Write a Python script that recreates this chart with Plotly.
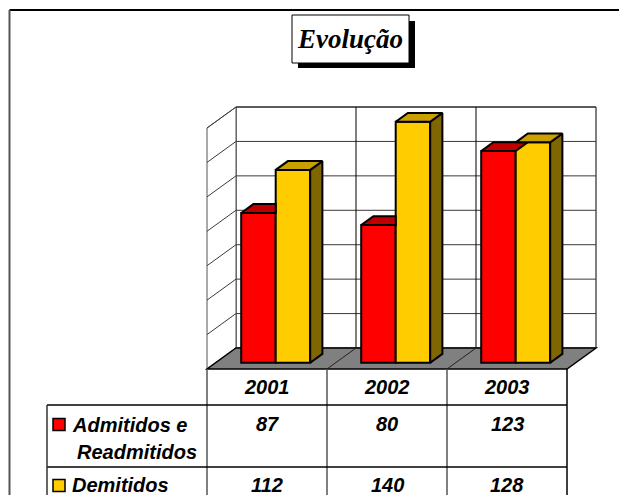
import plotly.graph_objects as go

# ---------------- data ----------------
categories = ["2001", "2002", "2003"]
admitidos = [87, 80, 123]
demitidos = [112, 140, 128]
series_names = ["Admitidos e<br>Readmitidos", "Demitidos"]
title_text = "Evolução"
y_max = 140
y_step = 20

# ---------------- styles / geometry ----------------
W, H = 627, 495
OFF = 8.0                             # page body margin where the figure is placed
X0_PX, CAT_PX = 267.0, 120.0          # page pixel of category 0 (front floor plane), px per category
Y0_PX, VAL_PX = 369.0, 241.0 / 140.0  # page pixel of value 0 (front floor plane), px per value unit
DEPTH_X = 29.0 / CAT_PX               # full depth offset in x data units
DEPTH_Y = 21.0 / VAL_PX               # full depth offset in y data units
BAR_F0, BAR_F1 = 0.30, 0.72           # bar depth span (fraction of full depth)
BAR_W = 34.5 / CAT_PX

RED, RED_TOP = "#FF0000", "#C00000"
YEL, YEL_TOP, YEL_SIDE = "#FFCC00", "#C9A000", "#806600"
FLOOR = "#808080"
FONT = "Liberation Sans"

def px(x):
    return (x - OFF) / W

def py(y):
    return 1 - (y - OFF) / H

ticks = list(range(0, y_max + 1, y_step))
n = len(categories)
xl, xr = -0.5, n - 0.5
DX, DY = DEPTH_X, DEPTH_Y

fig = go.Figure()

# ---------------- walls & floor (shapes below traces) ----------------
shapes = []
line_k = dict(color="black", width=1)
grid_k = dict(color="#3a3a3a", width=1)
# back wall
shapes.append(dict(type="rect", xref="x", yref="y", layer="below",
                   x0=xl + DX, x1=xr + DX, y0=DY, y1=y_max + DY,
                   fillcolor="white", line=line_k))
# left wall
shapes.append(dict(type="path", xref="x", yref="y", layer="below",
                   path=f"M{xl},{0} L{xl},{y_max} L{xl+DX},{y_max+DY} L{xl+DX},{DY} Z",
                   fillcolor="white", line=dict(color="#555555", width=1)))
for t in ticks[1:]:
    shapes.append(dict(type="line", xref="x", yref="y", layer="below",
                       x0=xl + DX, x1=xr + DX, y0=t + DY, y1=t + DY, line=grid_k))
    shapes.append(dict(type="line", xref="x", yref="y", layer="below",
                       x0=xl, x1=xl + DX, y0=t, y1=t + DY, line=grid_k))
for b in range(1, n):
    xb = xl + b
    shapes.append(dict(type="line", xref="x", yref="y", layer="below",
                       x0=xb + DX, x1=xb + DX, y0=DY, y1=y_max + DY, line=line_k))
# floor
shapes.append(dict(type="path", xref="x", yref="y", layer="below",
                   path=f"M{xl},0 L{xr},0 L{xr+DX},{DY} L{xl+DX},{DY} Z",
                   fillcolor=FLOOR, line=dict(color="black", width=1.5)))
for b in range(1, n):
    xb = xl + b
    shapes.append(dict(type="line", xref="x", yref="y", layer="below",
                       x0=xb, x1=xb + DX, y0=0, y1=DY, line=dict(color="#222222", width=1)))

# ---------------- bars ----------------
base = BAR_F0 * DY
bdx = (BAR_F1 - BAR_F0) * DX
bdy = (BAR_F1 - BAR_F0) * DY
shift = BAR_F0 * DX
x_red = [i + shift - BAR_W / 2 for i in range(n)]
x_yel = [i + shift + BAR_W / 2 for i in range(n)]

fig.add_trace(go.Bar(x=x_red, y=admitidos, base=base, width=BAR_W,
                     marker=dict(color=RED, line=dict(color="black", width=2)),
                     name="Admitidos e Readmitidos", showlegend=False))
fig.add_trace(go.Bar(x=x_yel, y=demitidos, base=base, width=BAR_W,
                     marker=dict(color=YEL, line=dict(color="black", width=2)),
                     name="Demitidos", showlegend=False))

def poly(xs, ys, color):
    fig.add_trace(go.Scatter(x=xs + [xs[0]], y=ys + [ys[0]], mode="lines",
                             fill="toself", fillcolor=color,
                             line=dict(color="black", width=2),
                             hoverinfo="skip", showlegend=False))

for i in range(n):
    # red bar: top (clipped where the yellow bar hides it)
    a, d = admitidos[i], demitidos[i]
    l, r = x_red[i] - BAR_W / 2, x_red[i] + BAR_W / 2
    t = a + base
    if d >= a + bdy:
        poly([l, r, r, l + bdx], [t, t, t + bdy, t + bdy], RED_TOP)
    else:
        poly([l, r, r + bdx, l + bdx], [t, t, t + bdy, t + bdy], RED_TOP)
    # yellow bar: side then top
    l, r = x_yel[i] - BAR_W / 2, x_yel[i] + BAR_W / 2
    t = d + base
    poly([r, r, r + bdx, r + bdx], [base, t, t + bdy, base + bdy], YEL_SIDE)
    poly([l, r, r + bdx, l + bdx], [t, t, t + bdy, t + bdy], YEL_TOP)

# ---------------- frame, title box, table (paper coords) ----------------
def pline(x0, y0, x1, y1, color="black", width=1):
    shapes.append(dict(type="line", xref="paper", yref="paper",
                       x0=px(x0), y0=py(y0), x1=px(x1), y1=py(y1),
                       line=dict(color=color, width=width)))

def xpix(xd):
    return X0_PX + xd * CAT_PX

BOTTOM = OFF + H + 2
RIGHT = OFF + W + 2

# outer chart frame (cropped)
pline(9.5, 10, RIGHT, 10, "black", 2)
pline(9.5, 10, 9.5, BOTTOM, "#555555", 2)

# title box with shadow
shapes.append(dict(type="rect", xref="paper", yref="paper",
                   x0=px(298), x1=px(415), y0=py(68), y1=py(21),
                   fillcolor="black", line=dict(width=0)))
shapes.append(dict(type="rect", xref="paper", yref="paper",
                   x0=px(292), x1=px(409), y0=py(63), y1=py(15),
                   fillcolor="white", line=dict(color="black", width=1)))

# table grid
tbl_left = 47
row_y = [369, 405, 467]
for b in range(n + 1):
    xb = xpix(xl + b)
    pline(xb, row_y[0], xb, BOTTOM, "#555555" if b < n else "black", 1.5)
for ry in row_y[1:]:
    pline(tbl_left, ry, xpix(xr), ry, "black", 1.5)
pline(tbl_left, row_y[1], tbl_left, BOTTOM, "#333333", 1.5)

# legend keys
for ky, col in [(418.5, RED), (479.5, YEL)]:
    shapes.append(dict(type="rect", xref="paper", yref="paper",
                       x0=px(53), x1=px(65), y0=py(ky + 12), y1=py(ky),
                       fillcolor=col, line=dict(color="black", width=1.5)))

annotations = []
tfont = dict(family=FONT, size=20, color="black", weight="bold", style="italic")
annotations.append(dict(text=title_text, xref="paper", yref="paper",
                        x=px(350), y=py(39), xanchor="center", yanchor="middle",
                        showarrow=False,
                        font=dict(family="Liberation Serif", size=27, color="black",
                                  weight="bold", style="italic")))
for i, c in enumerate(categories):
    xc = px(xpix(i))
    annotations.append(dict(text=c, xref="paper", yref="paper", x=xc, y=py(387),
                            xanchor="center", yanchor="middle", showarrow=False, font=tfont))
    annotations.append(dict(text=str(admitidos[i]), xref="paper", yref="paper", x=xc, y=py(424),
                            xanchor="center", yanchor="middle", showarrow=False, font=tfont))
    annotations.append(dict(text=str(demitidos[i]), xref="paper", yref="paper", x=xc, y=py(485),
                            xanchor="center", yanchor="middle", showarrow=False, font=tfont))

s1_lines = series_names[0].split("<br>")
annotations.append(dict(text=s1_lines[0], xref="paper", yref="paper", x=px(70), y=py(425),
                        xanchor="left", yanchor="middle", showarrow=False, font=tfont))
annotations.append(dict(text=s1_lines[1], xref="paper", yref="paper", x=px(75), y=py(452),
                        xanchor="left", yanchor="middle", showarrow=False, font=tfont))
annotations.append(dict(text=series_names[1], xref="paper", yref="paper", x=px(70), y=py(485),
                        xanchor="left", yanchor="middle", showarrow=False, font=tfont))

fig.update_layout(
    width=W, height=H,
    margin=dict(l=0, r=0, t=0, b=0),
    paper_bgcolor="white", plot_bgcolor="white",
    barmode="overlay",
    xaxis=dict(range=[(OFF - X0_PX) / CAT_PX, (OFF + W - X0_PX) / CAT_PX],
               visible=False, fixedrange=True),
    yaxis=dict(range=[(Y0_PX - OFF - H) / VAL_PX, (Y0_PX - OFF) / VAL_PX],
               visible=False, fixedrange=True),
    shapes=shapes, annotations=annotations, showlegend=False,
)

fig.write_html("out.html")
